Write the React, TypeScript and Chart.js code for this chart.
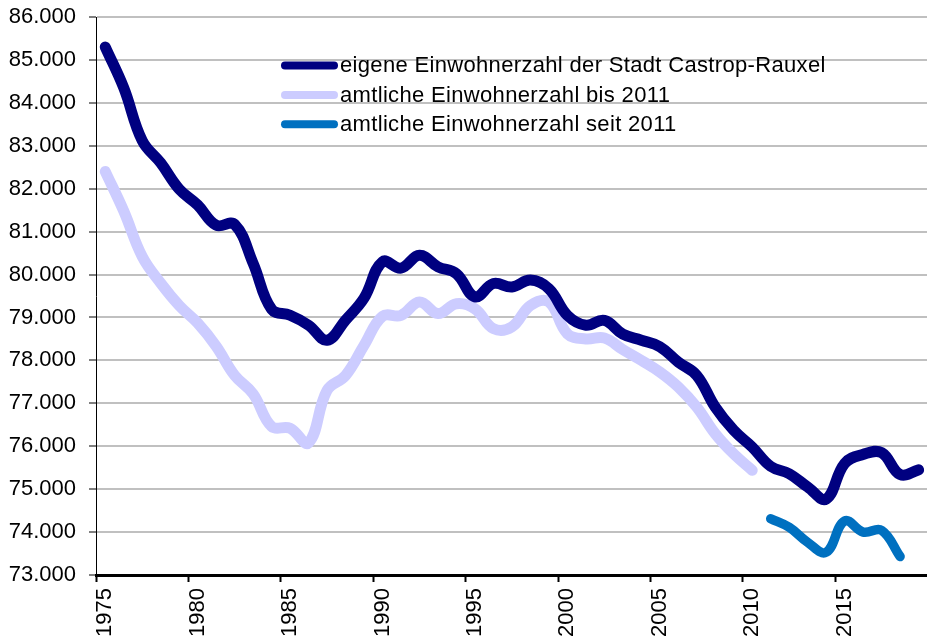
import React, { useEffect, useRef } from 'react';
import { Chart, registerables } from 'chart.js';

Chart.register(...registerables);

const years: number[] = [
  1975, 1976, 1977, 1978, 1979, 1980, 1981, 1982, 1983, 1984,
  1985, 1986, 1987, 1988, 1989, 1990, 1991, 1992, 1993, 1994,
  1995, 1996, 1997, 1998, 1999, 2000, 2001, 2002, 2003, 2004,
  2005, 2006, 2007, 2008, 2009, 2010, 2011, 2012, 2013, 2014,
  2015, 2016, 2017, 2018, 2019,
];

const eigeneEinwohnerzahl: (number | null)[] = [
  85300, 84350, 83120, 82600, 81990, 81620, 81150, 81170, 80260, 79190,
  79050, 78820, 78470, 78940, 79450, 80300, 80150, 80450, 80180, 80020,
  79480, 79790, 79710, 79870, 79670, 79050, 78820, 78930, 78610, 78470,
  78320, 77960, 77650, 76910, 76370, 75980, 75530, 75360, 75050, 74770,
  75600, 75810, 75850, 75340, 75450,
];

const amtlichBis2011: (number | null)[] = [
  82400, 81480, 80420, 79800, 79280, 78870, 78330, 77650, 77220, 76460,
  76420, 76080, 77300, 77650, 78350, 79030, 79050, 79360, 79090, 79320,
  79200, 78740, 78780, 79280, 79360, 78620, 78500, 78520, 78250, 78000,
  77730, 77380, 76910, 76290, 75820, 75440, null, null, null, null,
  null, null, null, null, null,
];

const amtlichSeit2011: (number | null)[] = [
  null, null, null, null, null, null, null, null, null, null,
  null, null, null, null, null, null, null, null, null, null,
  null, null, null, null, null, null, null, null, null, null,
  null, null, null, null, null, null, 74310, 74110, 73760, 73530,
  74260, 74000, 74040, 73430, null,
];

const seriesLabels: string[] = [
  'eigene Einwohnerzahl der Stadt Castrop-Rauxel',
  'amtliche Einwohnerzahl bis 2011',
  'amtliche Einwohnerzahl seit 2011',
];

const yMin = 73000;
const yMax = 86000;
const yStep = 1000;
const labelEvery = 5;

const FONT = "'Liberation Sans', Arial, Helvetica, sans-serif";

function formatThousands(v: number): string {
  const n = Math.round(v);
  const th = Math.floor(n / 1000);
  const rest = String(n % 1000).padStart(3, '0');
  return th + '.' + rest;
}

const insideLegend = {
  id: 'insideLegend',
  afterDraw(chart: any) {
    const ctx = chart.ctx as CanvasRenderingContext2D;
    ctx.save();
    chart.data.datasets.forEach((ds: any, i: number) => {
      const yLine = 65.6 + i * 29.3;
      ctx.strokeStyle = ds.borderColor;
      ctx.lineWidth = 8;
      ctx.lineCap = 'round';
      ctx.beginPath();
      ctx.moveTo(285, yLine);
      ctx.lineTo(334, yLine);
      ctx.stroke();
      ctx.fillStyle = '#000000';
      ctx.font = `22px ${FONT}`;
      (ctx as any).letterSpacing = '0.33px';
      ctx.textAlign = 'left';
      ctx.textBaseline = 'alphabetic';
      ctx.fillText(ds.label, 340, yLine + 6.8);
    });
    ctx.restore();
  },
};

export default function App() {
  const canvasRef = useRef<HTMLCanvasElement | null>(null);

  useEffect(() => {
    if (!canvasRef.current) return;
    const lineBase = {
      tension: 0.4,
      pointRadius: 0,
      borderCapStyle: 'round',
      borderJoinStyle: 'round',
      fill: false,
    };
    const chart = new Chart(canvasRef.current, {
      type: 'line',
      data: {
        labels: years.map(String),
        datasets: [
          { ...lineBase, label: seriesLabels[0], data: eigeneEinwohnerzahl, borderColor: '#000080', borderWidth: 11 },
          { ...lineBase, label: seriesLabels[1], data: amtlichBis2011, borderColor: '#CCCCFF', borderWidth: 11 },
          { ...lineBase, label: seriesLabels[2], data: amtlichSeit2011, borderColor: '#0070C0', borderWidth: 9.5 },
        ],
      },
      options: {
        animation: false,
        responsive: true,
        maintainAspectRatio: false,
        layout: { padding: { top: 17, left: 0, right: 0, bottom: 0 } },
        plugins: {
          legend: { display: false },
          tooltip: { enabled: false },
          title: { display: false },
        },
        scales: {
          x: {
            type: 'category',
            offset: true,
            afterFit: (scale: any) => {
              scale.height = 64;
            },
            border: { display: true, color: '#000000', width: 3 },
            grid: {
              offset: true,
              drawOnChartArea: false,
              drawTicks: true,
              tickLength: 7,
              tickWidth: 2,
              tickColor: (ctx: any) =>
                typeof ctx.index === 'number' && ctx.index < years.length && years[ctx.index] % labelEvery === 0
                  ? '#000000'
                  : 'rgba(0,0,0,0)',
            },
            ticks: {
              autoSkip: false,
              maxRotation: 90,
              minRotation: 90,
              padding: 6,
              color: '#000000',
              font: { family: FONT, size: 22 },
              callback: (_v: any, idx: number) =>
                years[idx] % labelEvery === 0 ? String(years[idx]) : '',
            },
          },
          y: {
            min: yMin,
            max: yMax,
            afterFit: (scale: any) => {
              scale.width = 96;
              scale.paddingTop = 0;
              scale.paddingBottom = 0;
            },
            border: { display: true, color: '#000000', width: 1 },
            grid: {
              color: '#C0C0C0',
              lineWidth: 2,
              drawTicks: true,
              tickLength: 7,
              tickColor: '#000000',
              tickWidth: 1,
            },
            ticks: {
              stepSize: yStep,
              padding: 13,
              color: '#000000',
              font: { family: FONT, size: 22 },
              callback: (v: any) => formatThousands(Number(v)),
            },
          },
        },
      },
      plugins: [insideLegend],
    } as any);
    return () => chart.destroy();
  }, []);

  return (
    <div
      style={{
        position: 'absolute',
        left: 0,
        top: 0,
        width: 927,
        height: 639,
        background: '#ffffff',
        overflow: 'hidden',
      }}
    >
      <div style={{ position: 'relative', width: 951, height: 639 }}>
        <canvas ref={canvasRef} />
      </div>
    </div>
  );
}
